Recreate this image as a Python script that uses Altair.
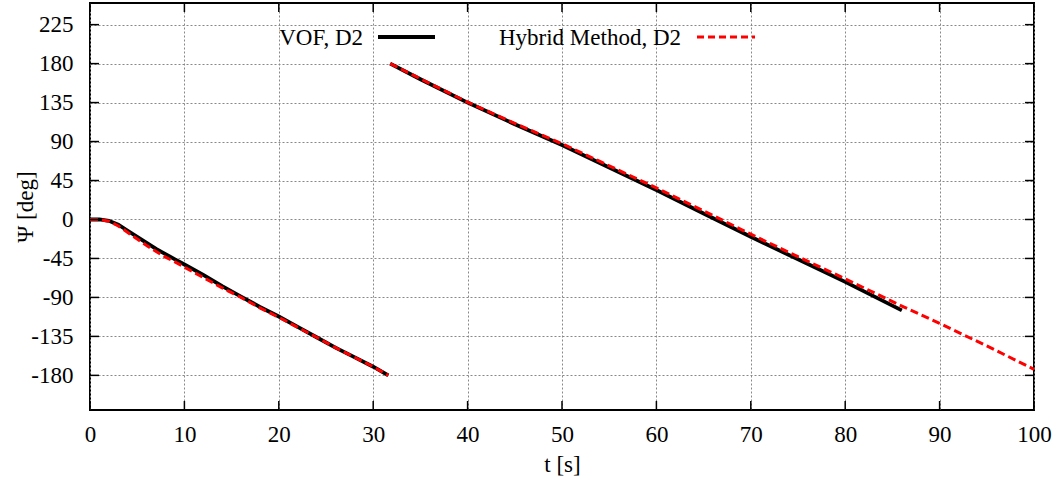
import altair as alt
import pandas as pd

# ---- data ----
vof_t1 = [0, 1, 2, 3, 4, 5, 6, 7, 8, 9, 10, 12, 14, 16, 18, 20, 22, 24, 26, 28, 30, 31.6]
vof_p1 = [0, 0, -1.5, -6, -13, -20, -27, -34, -40, -46, -52, -64, -77, -89, -101, -112, -124, -136, -148, -159, -170, -180]
hyb_t1 = [0, 1, 2, 3, 4, 5, 6, 7, 8, 9, 10, 12, 14, 16, 18, 20, 22, 24, 26, 28, 30, 31.6]
hyb_p1 = [0, 0, -2, -7.5, -15, -22.5, -30, -37, -43.5, -49, -55, -67, -79, -90, -102, -113, -124.5, -136, -148, -159, -170, -180]

vof_t2 = [31.8, 35, 40, 45, 50, 55, 60, 65, 70, 75, 80, 86]
vof_p2 = [180, 162, 135, 110, 86, 60, 34, 7, -20, -46, -72, -105]
hyb_t2 = [31.8, 35, 40, 45, 50, 55, 60, 65, 70, 75, 80, 86, 90, 95, 100]
hyb_p2 = [180, 162.5, 135.5, 111, 87.5, 62, 36.5, 10, -17, -43, -68.5, -100, -120, -146, -173]

x_ticks = [0, 10, 20, 30, 40, 50, 60, 70, 80, 90, 100]
y_ticks = [-180, -135, -90, -45, 0, 45, 90, 135, 180, 225]

legend_labels = ["VOF, D2", "Hybrid Method, D2"]

FONT = "Liberation Serif"
FS = 23
W, H = 944, 407

def frame(ts, ps, seg):
    return pd.DataFrame({"t": ts, "psi": ps, "seg": seg})

vof = pd.concat([frame(vof_t1, vof_p1, "a"), frame(vof_t2, vof_p2, "b")])
hyb = pd.concat([frame(hyb_t1, hyb_p1, "a"), frame(hyb_t2, hyb_p2, "b")])

xs = alt.Scale(domain=[0, 100], nice=False, zero=False)
ys = alt.Scale(domain=[-220, 250], nice=False, zero=False)

xaxis = alt.Axis(values=x_ticks, title="t [s]", grid=True, ticks=False, domain=False,
                 labelPadding=13, labelFlush=False, labelOverlap=False,
                 labelExpr="'' + datum.value",
                 titleY=61, titleBaseline="alphabetic")
yaxis = alt.Axis(values=y_ticks, title="Ψ [deg]", grid=True, ticks=False, domain=False,
                 labelPadding=17, labelFlush=False, labelOverlap=False,
                 labelExpr="'' + datum.value",
                 titleX=-58, titleY=H / 2, titleAngle=270,
                 titleAlign="center", titleBaseline="alphabetic")

vof_line = alt.Chart(vof).mark_line(color="black", strokeWidth=3.8).encode(
    x=alt.X("t:Q", scale=xs, axis=xaxis),
    y=alt.Y("psi:Q", scale=ys, axis=yaxis),
    detail="seg:N",
)
hyb_line = alt.Chart(hyb).mark_line(color="#ff0000", strokeWidth=3, strokeDash=[8, 4]).encode(
    x=alt.X("t:Q", scale=xs),
    y=alt.Y("psi:Q", scale=ys),
    detail="seg:N",
)

# inward ticks on all four sides
ydf = pd.DataFrame({"v": y_ticks})
xdf = pd.DataFrame({"v": x_ticks})
tl = 9
yt_left = alt.Chart(ydf).mark_rule(color="black", strokeWidth=1.5).encode(
    y=alt.Y("v:Q", scale=ys), x=alt.value(0), x2=alt.value(tl))
yt_right = alt.Chart(ydf).mark_rule(color="black", strokeWidth=1.5).encode(
    y=alt.Y("v:Q", scale=ys), x=alt.value(W - tl), x2=alt.value(W))
xt_bot = alt.Chart(xdf).mark_rule(color="black", strokeWidth=1.5).encode(
    x=alt.X("v:Q", scale=xs), y=alt.value(H - tl), y2=alt.value(H))
xt_top = alt.Chart(xdf).mark_rule(color="black", strokeWidth=1.5).encode(
    x=alt.X("v:Q", scale=xs), y=alt.value(0), y2=alt.value(tl))

# gnuplot-style key at top
leg1_text = alt.Chart(pd.DataFrame({"l": [legend_labels[0]]})).mark_text(
    font=FONT, fontSize=FS, align="right", baseline="middle", color="black").encode(
    text="l:N", x=alt.value(273), y=alt.value(35))
leg1_line = alt.Chart(pd.DataFrame({"l": [0]})).mark_rule(color="black", strokeWidth=3.8).encode(
    x=alt.value(288), x2=alt.value(345), y=alt.value(34))
leg2_text = alt.Chart(pd.DataFrame({"l": [legend_labels[1]]})).mark_text(
    font=FONT, fontSize=FS, align="right", baseline="middle", color="black").encode(
    text="l:N", x=alt.value(591), y=alt.value(35))
leg2_line = alt.Chart(pd.DataFrame({"l": [0]})).mark_rule(
    color="#ff0000", strokeWidth=3, strokeDash=[7, 4]).encode(
    x=alt.value(607), x2=alt.value(665), y=alt.value(34))

chart = alt.layer(
    vof_line, hyb_line, yt_left, yt_right, xt_bot, xt_top,
    leg1_text, leg1_line, leg2_text, leg2_line,
).properties(
    width=W, height=H,
    autosize=alt.AutoSizeParams(type="none"),
    padding={"left": 90, "top": 3, "right": 28, "bottom": 70},
    background="white",
).configure_view(
    stroke="black", strokeWidth=2,
).configure_axis(
    labelFont=FONT, titleFont=FONT, labelFontSize=FS, titleFontSize=FS,
    labelColor="black", titleColor="black", titleFontWeight="normal",
    gridColor="#888888", gridDash=[2, 2], gridWidth=1, gridOpacity=1,
)

chart.save("out.html", embed_options={"renderer": "svg", "actions": False})
